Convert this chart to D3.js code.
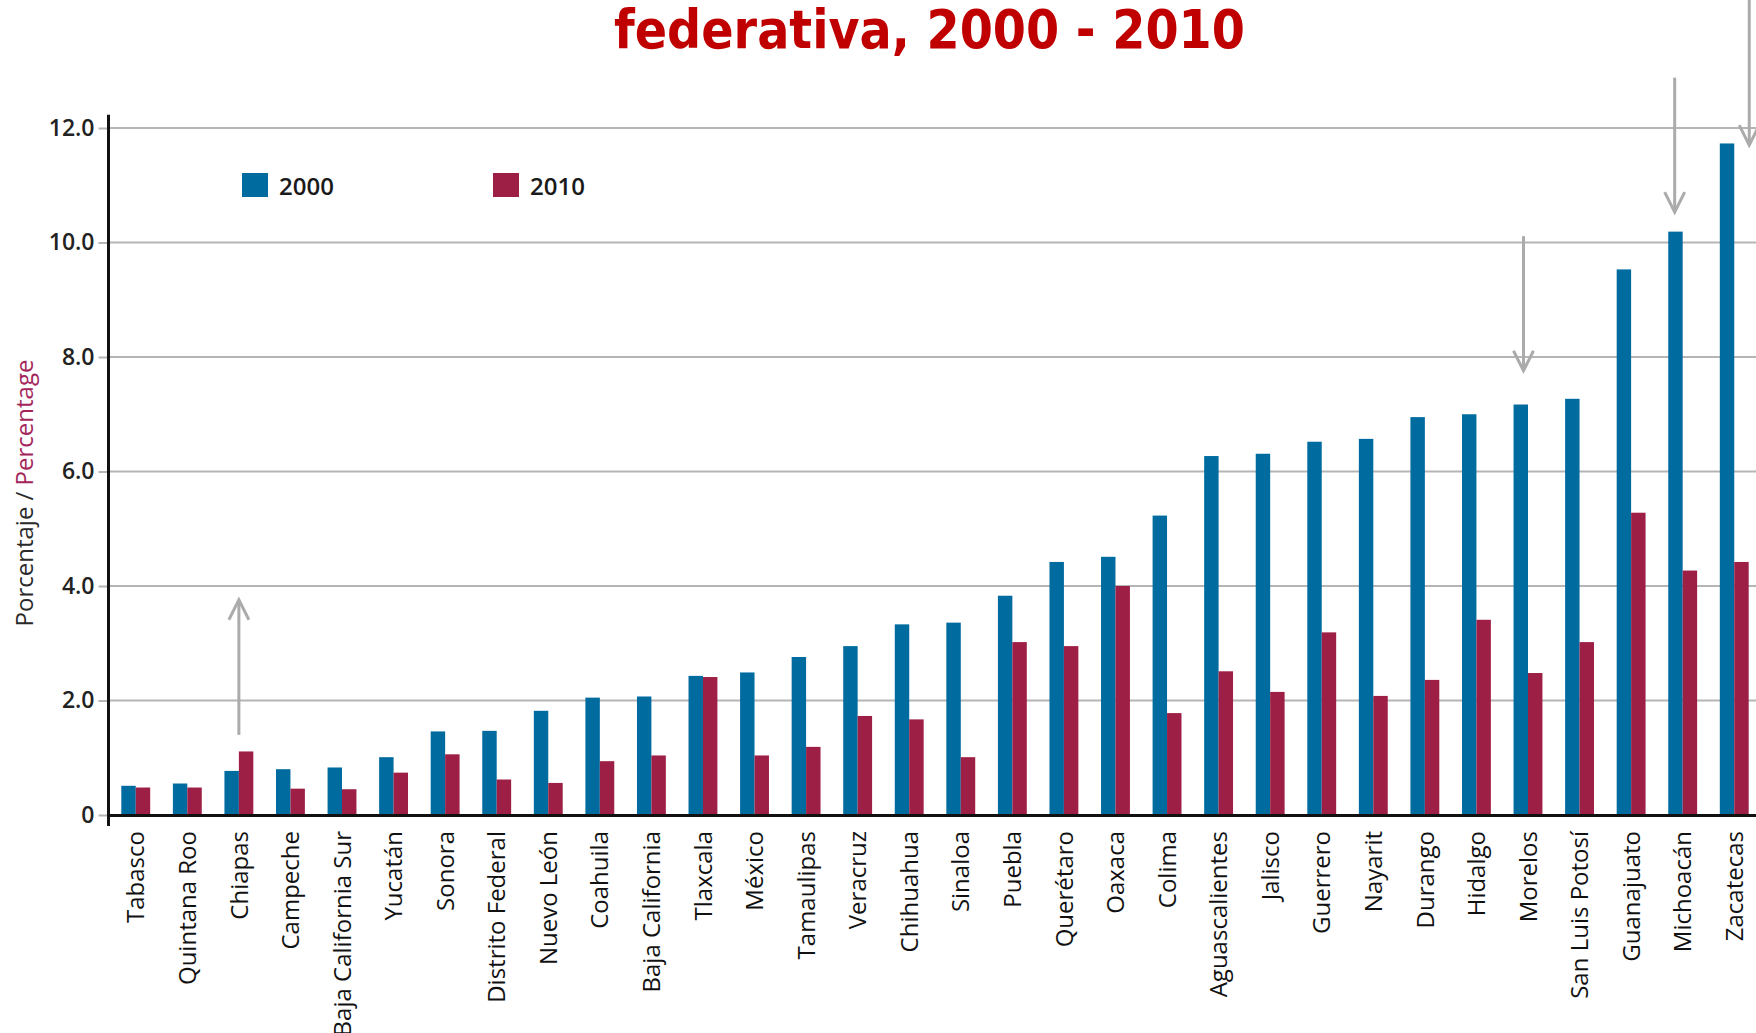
<!DOCTYPE html>
<html>
<head>
<meta charset="utf-8">
<script src="https://cdn.jsdelivr.net/npm/d3@7"></script>
<style>
  html, body { margin: 0; padding: 0; background: #fff; overflow: hidden; }
</style>
</head>
<body>
<div id="chart"></div>
<script>
const states = [
  "Tabasco", "Quintana Roo", "Chiapas", "Campeche", "Baja California Sur", "Yucatán",
  "Sonora", "Distrito Federal", "Nuevo León", "Coahuila", "Baja California", "Tlaxcala",
  "México", "Tamaulipas", "Veracruz", "Chihuahua", "Sinaloa", "Puebla", "Querétaro",
  "Oaxaca", "Colima", "Aguascalientes", "Jalisco", "Guerrero", "Nayarit", "Durango",
  "Hidalgo", "Morelos", "San Luis Potosí", "Guanajuato", "Michoacán", "Zacatecas"
];
const values2000 = [
  0.51, 0.55, 0.77, 0.80, 0.83, 1.01, 1.46, 1.47, 1.82, 2.05, 2.07, 2.43, 2.49, 2.76, 2.95,
  3.33, 3.36, 3.83, 4.42, 4.51, 5.23, 6.27, 6.31, 6.52, 6.57, 6.95, 7.00, 7.17, 7.27, 9.53,
  10.19, 11.73
];
const values2010 = [
  0.48, 0.48, 1.11, 0.46, 0.45, 0.74, 1.06, 0.62, 0.56, 0.94, 1.04, 2.41, 1.04, 1.19, 1.73,
  1.67, 1.01, 3.02, 2.95, 4.00, 1.78, 2.51, 2.15, 3.19, 2.08, 2.36, 3.41, 2.48, 3.02, 5.28,
  4.27, 4.42
];
const seriesNames = ["2000", "2010"];
const yTicks = [0, 2, 4, 6, 8, 10, 12];
const titleText = "federativa, 2000 - 2010";

// arrows: state, start value, tip value
const arrowStates = ["Chiapas", "Morelos", "Michoacán", "Zacatecas"];
const arrowFrom = [1.40, 10.11, 12.88, 14.24];
const arrowTo = [3.76, 7.76, 10.53, 11.70];

function drawChart() {
  const width = 1756;
  const height = 1033;
  const blue = "#006b9f";
  const red = "#9e1f45";
  const gridColor = "#b5b5b5";
  const arrowColor = "#ababab";
  const font = "'Open Sans', 'DejaVu Sans', sans-serif";

  const svg = d3.select("#chart")
    .append("svg")
    .attr("width", width)
    .attr("height", height)
    .style("display", "block");

  svg.append("rect").attr("width", width).attr("height", height).attr("fill", "#fff");

  const x0 = d3.scaleBand()
    .domain(states)
    .range([111, 1759])
    .paddingInner(0.44)
    .paddingOuter(0.2);

  const x1 = d3.scaleBand()
    .domain(seriesNames)
    .range([0, x0.bandwidth()]);

  const y = d3.scaleLinear()
    .domain([0, 12])
    .range([815, 128]);

  const axisX = 108.5;

  // Gridlines
  svg.append("g")
    .selectAll("line")
    .data(yTicks.filter(d => d > 0))
    .join("line")
    .attr("x1", axisX)
    .attr("x2", width)
    .attr("y1", d => y(d))
    .attr("y2", d => y(d))
    .attr("stroke", gridColor)
    .attr("stroke-width", 2);

  // Y axis ticks + labels
  const yAxis = svg.append("g")
    .attr("transform", `translate(${axisX},0)`)
    .call(d3.axisLeft(y)
      .tickValues(yTicks)
      .tickSize(10)
      .tickPadding(4)
      .tickFormat(d => d === 0 ? "0" : d3.format(".1f")(d)));
  yAxis.select(".domain").remove();
  yAxis.selectAll(".tick line").attr("stroke", gridColor).attr("stroke-width", 2);
  yAxis.selectAll(".tick text")
    .attr("font-family", font)
    .attr("font-size", 23)
    .attr("font-weight", 600)
    .attr("fill", "#222");

  // Bars
  const rows = states.map((s, i) => ({ state: s, values: [values2000[i], values2010[i]] }));
  const colors = d3.scaleOrdinal().domain(seriesNames).range([blue, red]);

  svg.append("g")
    .selectAll("g")
    .data(rows)
    .join("g")
    .attr("transform", d => `translate(${x0(d.state)},0)`)
    .selectAll("rect")
    .data(d => seriesNames.map((k, j) => ({ key: k, value: d.values[j] })))
    .join("rect")
    .attr("x", d => x1(d.key))
    .attr("y", d => y(d.value))
    .attr("width", x1.bandwidth())
    .attr("height", d => y(0) - y(d.value))
    .attr("fill", d => colors(d.key));

  // Axis lines
  svg.append("line")
    .attr("x1", axisX).attr("x2", width)
    .attr("y1", y(0) + 0.5).attr("y2", y(0) + 0.5)
    .attr("stroke", "#111").attr("stroke-width", 3);
  svg.append("line")
    .attr("x1", axisX).attr("x2", axisX)
    .attr("y1", y(12.23)).attr("y2", y(0) + 11)
    .attr("stroke", "#111").attr("stroke-width", 3);

  // X axis labels (rotated)
  const xAxis = svg.append("g")
    .attr("transform", `translate(0,${y(0)})`)
    .call(d3.axisBottom(x0).tickSize(0).tickPadding(0));
  xAxis.select(".domain").remove();
  xAxis.selectAll(".tick text")
    .attr("transform", "rotate(-90)")
    .attr("x", -16)
    .attr("y", 0)
    .attr("dy", "0.36em")
    .attr("text-anchor", "end")
    .attr("font-family", font)
    .attr("font-size", 24)
    .attr("font-weight", 500)
    .attr("fill", "#111");

  // Y axis title
  const yTitle = svg.append("text")
    .attr("transform", "translate(33,493) rotate(-90)")
    .attr("text-anchor", "middle")
    .attr("font-family", font)
    .attr("font-size", 24)
    .attr("font-weight", 500);
  yTitle.append("tspan").attr("fill", "#2a2a2a").text("Porcentaje / ");
  yTitle.append("tspan").attr("fill", "#a3265a").text("Percentage");

  // Legend
  const legend = svg.append("g")
    .selectAll("g")
    .data(seriesNames)
    .join("g")
    .attr("transform", (d, i) => `translate(${242 + i * 251},173)`);
  legend.append("rect")
    .attr("width", 26)
    .attr("height", 24)
    .attr("fill", d => colors(d));
  legend.append("text")
    .attr("x", 37)
    .attr("y", 22)
    .attr("font-family", font)
    .attr("font-size", 24)
    .attr("font-weight", 600)
    .attr("fill", "#1a1a1a")
    .text(d => d);

  // Title (second line visible)
  svg.append("text")
    .attr("x", 929.5)
    .attr("y", 48)
    .attr("text-anchor", "middle")
    .attr("font-family", "'DejaVu Sans Condensed', 'Liberation Sans Narrow', 'DejaVu Sans', sans-serif")
    .attr("font-stretch", "condensed")
    .attr("font-weight", "bold")
    .attr("font-size", 53)
    .attr("fill", "#c00000")
    .attr("textLength", 631)
    .attr("lengthAdjust", "spacingAndGlyphs")
    .text(titleText);

  // Arrows
  const arrowOffset = { "Chiapas": 0, "Morelos": -4.5, "Michoacán": -8, "Zacatecas": 15 };
  const arrows = arrowStates.map((s, i) => ({
    x: x0(s) + x0.bandwidth() / 2 + arrowOffset[s],
    y0: y(arrowFrom[i]),
    y1: y(arrowTo[i])
  }));
  const ag = svg.append("g")
    .attr("fill", "none")
    .attr("stroke", arrowColor)
    .attr("stroke-width", 3);
  ag.selectAll("line")
    .data(arrows)
    .join("line")
    .attr("x1", d => d.x).attr("x2", d => d.x)
    .attr("y1", d => d.y0).attr("y2", d => d.y1);
  ag.selectAll("path")
    .data(arrows)
    .join("path")
    .attr("d", d => {
      const dir = d.y1 < d.y0 ? 1 : -1;
      return `M${d.x - 10},${d.y1 + dir * 20} L${d.x},${d.y1} L${d.x + 10},${d.y1 + dir * 20}`;
    });
}

drawChart();
</script>
</body>
</html>
